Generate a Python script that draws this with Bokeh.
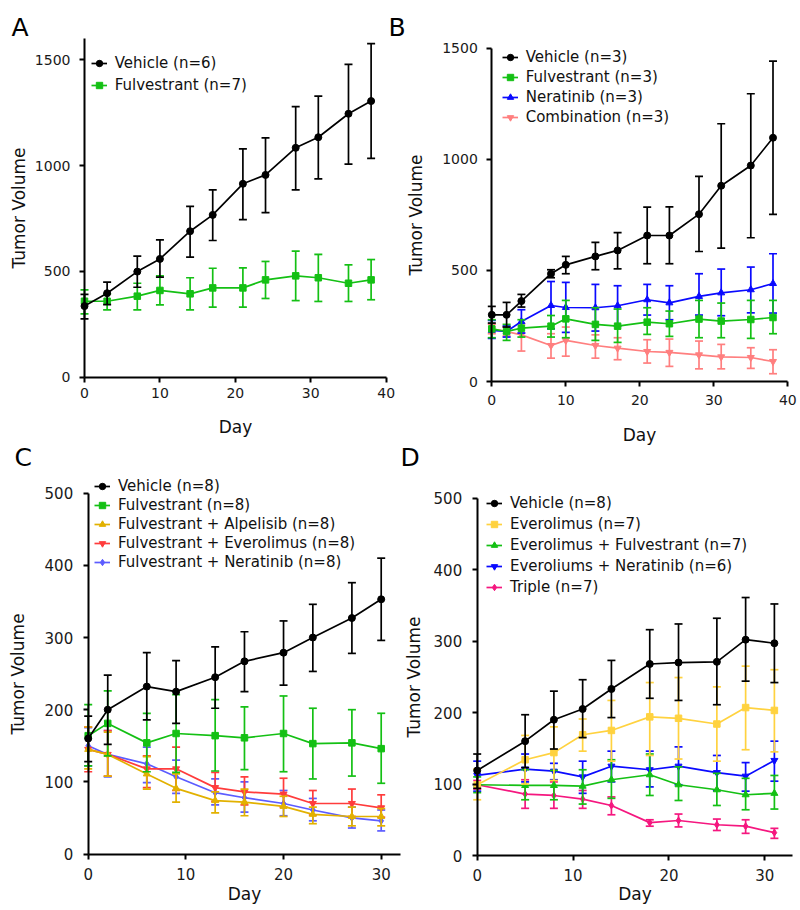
from bokeh.plotting import figure
from bokeh.models import (ColumnDataSource, Legend, LegendItem, Label, Range1d,
                          LinearAxis, FixedTicker)
from bokeh.embed import file_html
from bokeh.resources import INLINE

FONT = "DejaVu Sans"

# ---------------- data ----------------
A_days = [0, 3, 7, 10, 14, 17, 21, 24, 28, 31, 35, 38]
A_vehicle = [336, 397, 499, 559, 690, 767, 914, 956, 1084, 1134, 1245, 1305]
A_vehicle_hi = [391, 449, 572, 649, 807, 885, 1079, 1131, 1279, 1328, 1478, 1576]
A_vehicle_lo = [276, 343, 425, 473, 567, 646, 745, 778, 885, 937, 1007, 1034]
A_fulv = [359, 359, 383, 410, 394, 422, 422, 460, 479, 470, 444, 460]
A_fulv_hi = [413, 394, 444, 479, 470, 515, 517, 547, 596, 580, 531, 556]
A_fulv_lo = [299, 318, 318, 342, 318, 331, 331, 372, 362, 358, 358, 366]
A_labels = ["Vehicle (n=6)", "Fulvestrant (n=7)"]

B_days = [0, 2, 4, 8, 10, 14, 17, 21, 24, 28, 31, 35, 38]
B_vehicle = [300, 300, 362, 485, 525, 563, 590, 657, 657, 753, 881, 972, 1097]
B_vehicle_hi = [338, 356, 392, 503, 563, 626, 670, 785, 786, 923, 1160, 1295, 1442]
B_vehicle_lo = [263, 245, 335, 467, 485, 503, 507, 530, 530, 585, 600, 647, 752]
B_fulv = [237, 225, 240, 249, 282, 257, 249, 267, 260, 281, 272, 279, 288]
B_fulv_hi = [278, 257, 278, 297, 365, 332, 326, 332, 317, 365, 353, 365, 365]
B_fulv_lo = [197, 185, 200, 200, 197, 185, 176, 212, 203, 197, 197, 194, 215]
B_nera = [230, 225, 270, 342, 333, 332, 341, 368, 354, 383, 399, 413, 441]
B_nera_hi = [275, 250, 323, 450, 446, 437, 431, 437, 431, 485, 506, 515, 575]
B_nera_lo = [194, 200, 218, 237, 221, 227, 251, 299, 278, 299, 296, 309, 308]
B_combo = [237, 225, 210, 162, 185, 162, 150, 135, 131, 120, 111, 108, 90]
B_combo_hi = [258, 245, 260, 215, 245, 210, 197, 188, 191, 182, 167, 152, 143]
B_combo_lo = [215, 205, 137, 105, 114, 105, 98, 83, 68, 57, 57, 59, 35]
B_labels = ["Vehicle (n=3)", "Fulvestrant (n=3)", "Neratinib (n=3)", "Combination (n=3)"]

C_days = [0, 2, 6, 9, 13, 16, 20, 23, 27, 30]
C_vehicle = [160, 200, 232, 225, 245, 267, 279, 300, 327, 353]
C_vehicle_hi = [191, 248, 279, 268, 287, 308, 323, 346, 376, 410]
C_vehicle_lo = [128, 152, 186, 181, 202, 225, 234, 253, 278, 296]
C_fulv = [164, 181, 154, 167, 164, 161, 167, 153, 154, 146]
C_fulv_hi = [207, 226, 195, 221, 214, 204, 219, 202, 200, 195]
C_fulv_lo = [122, 136, 114, 113, 115, 117, 114, 104, 108, 98]
C_alpe = [145, 138, 111, 91, 74, 72, 66, 55, 52, 52]
C_alpe_hi = [176, 169, 135, 111, 86, 90, 80, 65, 65, 63]
C_alpe_lo = [118, 108, 90, 72, 57, 53, 52, 42, 39, 39]
C_ever = [145, 138, 118, 118, 92, 86, 83, 70, 70, 64]
C_ever_hi = [176, 171, 136, 148, 113, 107, 105, 88, 90, 82]
C_ever_lo = [114, 108, 92, 88, 73, 68, 65, 54, 52, 51]
C_nera = [150, 138, 125, 107, 85, 78, 70, 61, 50, 46]
C_nera_hi = [175, 171, 148, 130, 104, 100, 88, 77, 65, 61]
C_nera_lo = [122, 107, 99, 84, 68, 58, 53, 46, 36, 32]
C_labels = ["Vehicle (n=8)", "Fulvestrant (n=8)", "Fulvestrant + Alpelisib (n=8)",
            "Fulvestrant + Everolimus (n=8)", "Fulvestrant + Neratinib (n=8)"]

D_days = [0, 5, 8, 11, 14, 18, 21, 25, 28, 31]
D_vehicle = [119, 160, 190, 205, 233, 268, 270, 271, 302, 297]
D_vehicle_hi = [142, 197, 230, 246, 273, 316, 324, 332, 361, 352]
D_vehicle_lo = [94, 123, 149, 165, 193, 220, 217, 211, 244, 242]
D_ever = [99, 134, 144, 169, 175, 194, 192, 184, 207, 203]
D_ever_hi = [121, 168, 180, 191, 217, 242, 249, 236, 265, 260]
D_ever_lo = [78, 100, 105, 146, 132, 140, 135, 132, 148, 145]
D_ever_fulv = [99, 98, 98, 97, 106, 113, 99, 92, 85, 87]
D_ever_fulv_hi = [110, 120, 119, 120, 134, 142, 124, 115, 108, 112]
D_ever_fulv_lo = [88, 78, 78, 72, 80, 84, 77, 70, 64, 65]
D_ever_nera = [112, 121, 118, 110, 125, 120, 125, 116, 111, 133]
D_ever_nera_hi = [132, 142, 129, 132, 146, 146, 152, 140, 130, 160]
D_ever_nera_lo = [90, 103, 106, 87, 103, 96, 99, 91, 90, 104]
D_triple = [99, 86, 84, 79, 70, 46, 49, 43, 41, 32]
D_triple_hi = [105, 106, 103, 91, 82, 50, 58, 51, 50, 38]
D_triple_lo = [93, 66, 66, 66, 57, 41, 40, 35, 31, 24]
D_labels = ["Vehicle (n=8)", "Everolimus (n=7)", "Everolimus + Fulvestrant (n=7)",
            "Everoliums + Neratinib (n=6)", "Triple (n=7)"]

BIG_Y_TICKS = [0, 500, 1000, 1500]
SMALL_Y_TICKS = [0, 100, 200, 300, 400, 500]
X40_TICKS = [0, 10, 20, 30, 40]
X30_TICKS = [0, 10, 20, 30]

W, H = 800, 910

p = figure(width=W, height=H, output_backend="svg", toolbar_location=None,
           x_range=Range1d(0, W), y_range=Range1d(H, 0),
           x_axis_location=None, y_axis_location=None, min_border=0)
p.outline_line_color = None
p.grid.visible = False
p.background_fill_color = "white"
p.border_fill_color = "white"

# panel geometry: pixel of value 0 and of a reference value, per axis
GEOM = {
    "A": dict(x0=84.0, x1=385.7, xv=40, y0=376.7, y1=59.3, yv=1500),
    "B": dict(x0=491.3, x1=787.3, xv=40, y0=381.0, y1=47.7, yv=1500),
    "C": dict(x0=87.7, x1=380.7, xv=30, y0=853.5, y1=492.7, yv=500),
    "D": dict(x0=476.7, x1=764.3, xv=30, y0=855.0, y1=497.7, yv=500),
}
xr, yr = {}, {}
for k, g in GEOM.items():
    kx = (g["x1"] - g["x0"]) / g["xv"]
    ky = (g["y0"] - g["y1"]) / g["yv"]
    xr[k] = Range1d(-g["x0"] / kx, (W - g["x0"]) / kx)
    yr[k] = Range1d(-(H - g["y0"]) / ky, g["y0"] / ky)
p.extra_x_ranges = xr
p.extra_y_ranges = yr


def style_axis(ax, tick_size, std, lab_std):
    ax.axis_line_width = 2
    ax.axis_line_color = "black"
    ax.major_tick_line_width = 2
    ax.major_tick_line_color = "black"
    ax.major_tick_out = 5
    ax.major_tick_in = 0
    ax.minor_tick_line_color = None
    ax.major_label_text_font = FONT
    ax.major_label_text_font_size = tick_size
    ax.major_label_text_color = "#1a1a1a"
    ax.axis_label_text_font = FONT
    ax.axis_label_text_font_size = "17px"
    ax.axis_label_text_font_style = "normal"
    ax.axis_label_text_color = "#111111"
    ax.major_label_standoff = std
    ax.axis_label_standoff = lab_std


def add_axes(name, xbounds, ybounds, xticks, yticks, tick_size, xs, xls, ys, yls):
    xa = LinearAxis(x_range_name=name, y_range_name=name, fixed_location=0,
                    bounds=xbounds, ticker=FixedTicker(ticks=xticks), axis_label="Day")
    style_axis(xa, tick_size, xs, xls)
    p.add_layout(xa, "below")
    ya = LinearAxis(x_range_name=name, y_range_name=name, fixed_location=0,
                    bounds=ybounds, ticker=FixedTicker(ticks=yticks), axis_label="Tumor Volume")
    style_axis(ya, tick_size, ys, yls)
    p.add_layout(ya, "left")


def add_series(name, days, y, hi, lo, color, marker, size):
    src = ColumnDataSource(dict(x=days, y=y, hi=hi, lo=lo))
    kw = dict(source=src, x_range_name=name, y_range_name=name)
    p.segment("x", "lo", "x", "hi", line_color=color, line_width=1.7, **kw)
    p.scatter("x", "hi", marker="dash", size=8, line_color=color, line_width=1.7, **kw)
    p.scatter("x", "lo", marker="dash", size=8, line_color=color, line_width=1.7, **kw)
    l = p.line("x", "y", line_color=color, line_width=1.7, **kw)
    s = p.scatter("x", "y", marker=marker, size=size, fill_color=color, line_color=color, **kw)
    return [l, s]


def build(name, days, series):
    rends = [None] * len(series)
    for i in reversed(range(len(series))):
        y, hi, lo, color, marker, size = series[i]
        rends[i] = add_series(name, days, y, hi, lo, color, marker, size)
    return rends


def add_legend(labels, rends, glyph_left, first_center, spacing, h=18):
    n = len(labels)
    total = n * h + (n - 1) * spacing
    top = first_center - h / 2
    vy = H - (top + total)
    items = [LegendItem(label=lab, renderers=r) for lab, r in zip(labels, rends)]
    lg = Legend(items=items, location=(glyph_left, vy), orientation="vertical",
                padding=0, margin=0, spacing=spacing, label_height=h, glyph_height=h,
                glyph_width=16, label_standoff=8, label_text_font=FONT,
                label_text_font_size="15px", label_text_color="#111111",
                border_line_color=None, background_fill_alpha=0)
    p.add_layout(lg)


def panel_letter(text, x, baseline):
    p.add_layout(Label(x=x, y=baseline, text=text, text_font=FONT, text_font_size="25px",
                       text_color="black", text_align="left", text_baseline="alphabetic"))


GREEN = "#14c014"

# ---- Panel A ----
add_axes("A", (0, 40), (0, 1600), X40_TICKS, BIG_Y_TICKS, "14px", 6, 15, 9, 3)
rA = build("A", A_days, [
    (A_vehicle, A_vehicle_hi, A_vehicle_lo, "black", "circle", 7),
    (A_fulv, A_fulv_hi, A_fulv_lo, GREEN, "square", 6.5),
])
add_legend(A_labels, rA, 90.7, 62.7, 4)
panel_letter("A", 11, 26.7)

# ---- Panel B ----
add_axes("B", (0, 40), (0, 1500), X40_TICKS, BIG_Y_TICKS, "14px", 8, 17, 9, 13)
rB = build("B", B_days, [
    (B_vehicle, B_vehicle_hi, B_vehicle_lo, "black", "circle", 7),
    (B_fulv, B_fulv_hi, B_fulv_lo, GREEN, "square", 6.5),
    (B_nera, B_nera_hi, B_nera_lo, "#0a0aff", "triangle", 7),
    (B_combo, B_combo_hi, B_combo_lo, "#ff7f7f", "inverted_triangle", 7),
])
add_legend(B_labels, rB, 501.7, 56.7, 2)
panel_letter("B", 388, 26.7)

# ---- Panel C ----
add_axes("C", (0, 32), (0, 500), X30_TICKS, SMALL_Y_TICKS, "15px", 9, 0, 10, 14)
rC = build("C", C_days, [
    (C_vehicle, C_vehicle_hi, C_vehicle_lo, "black", "circle", 7),
    (C_fulv, C_fulv_hi, C_fulv_lo, GREEN, "square", 6.5),
    (C_alpe, C_alpe_hi, C_alpe_lo, "#e2b100", "triangle", 7),
    (C_ever, C_ever_hi, C_ever_lo, "#ff3c3c", "inverted_triangle", 7),
    (C_nera, C_nera_hi, C_nera_lo, "#5c5cff", "diamond", 7),
])
add_legend(C_labels, rC, 94, 486, 1)
panel_letter("C", 14, 457)

# ---- Panel D ----
add_axes("D", (0, 32.9), (0, 500), X30_TICKS, SMALL_Y_TICKS, "15px", 8, 0, 10, 7)
rD = build("D", D_days, [
    (D_vehicle, D_vehicle_hi, D_vehicle_lo, "black", "circle", 7),
    (D_ever, D_ever_hi, D_ever_lo, "#ffd23f", "square", 6.5),
    (D_ever_fulv, D_ever_fulv_hi, D_ever_fulv_lo, GREEN, "triangle", 7),
    (D_ever_nera, D_ever_nera_hi, D_ever_nera_lo, "#0a0aff", "inverted_triangle", 7),
    (D_triple, D_triple_hi, D_triple_lo, "#f5177f", "diamond", 7),
])
add_legend(D_labels, rD, 486, 503.3, 3)
panel_letter("D", 400, 457)

open("out.html", "w").write(file_html(p, INLINE))
